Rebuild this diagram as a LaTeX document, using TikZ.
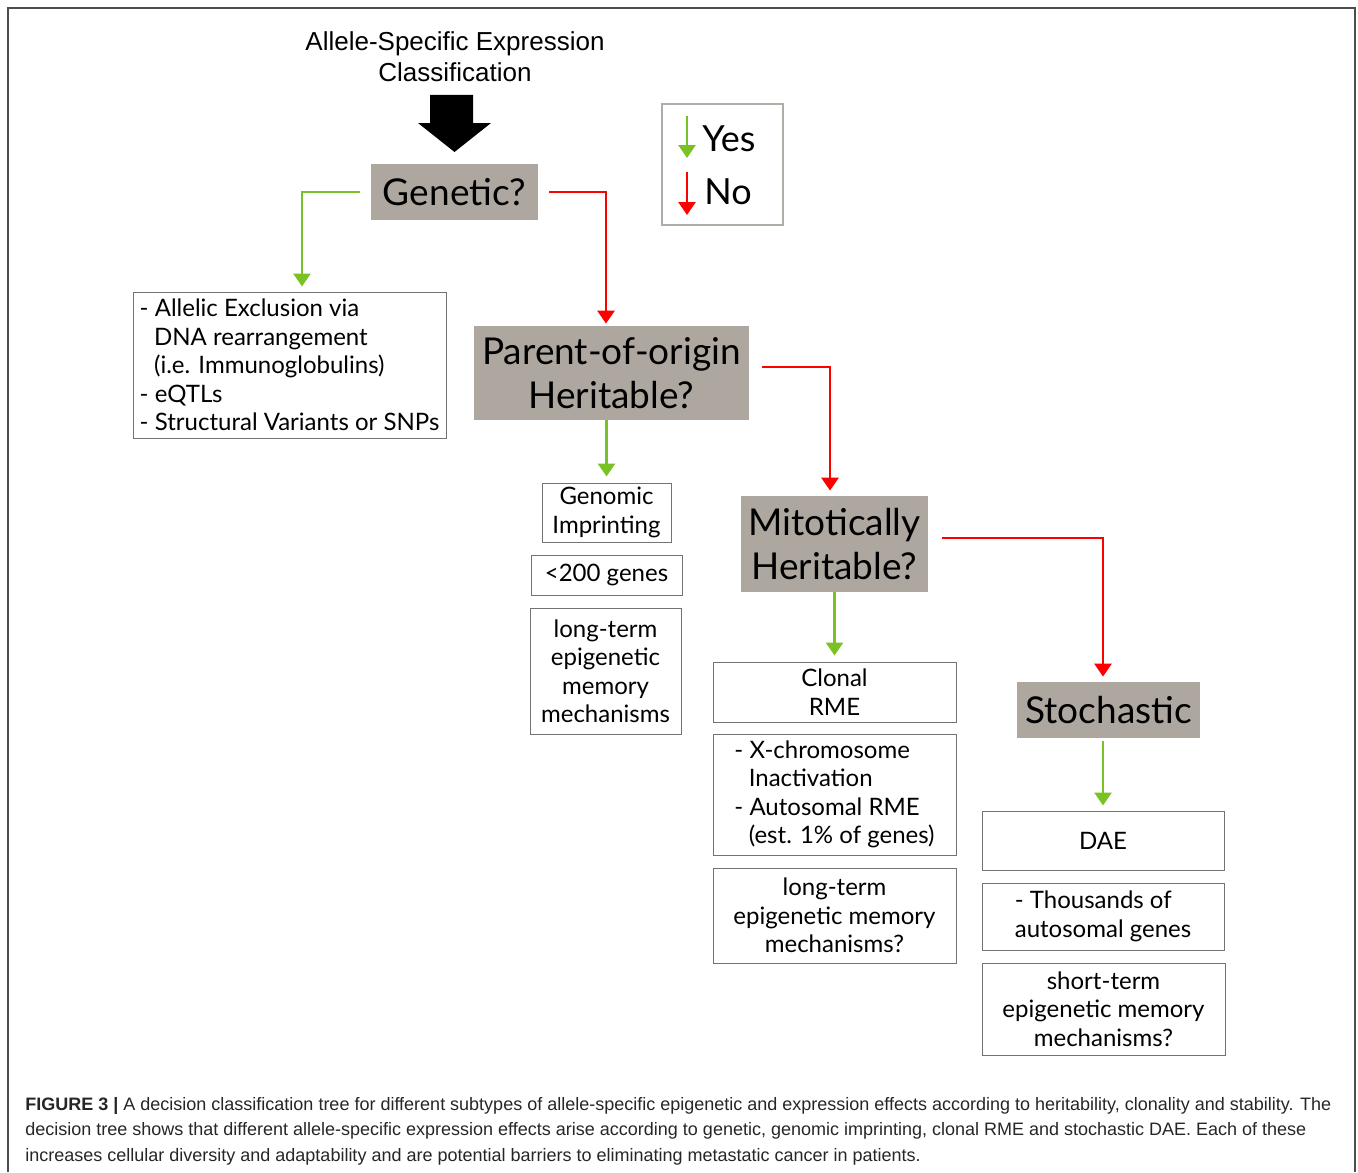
\documentclass[tikz,border=0pt]{standalone}
\usepackage{fontspec}
\setmainfont{Lato}
\newfontfamily\capfont{Liberation Sans}
\usetikzlibrary{arrows.meta,calc}

\definecolor{qgray}{RGB}{173,167,160}
\definecolor{yesgreen}{RGB}{122,193,36}
\definecolor{nored}{RGB}{255,0,0}
\definecolor{boxline}{RGB}{115,115,115}
\definecolor{legline}{RGB}{176,172,166}

\tikzset{
  question/.style={fill=qgray,inner sep=0pt,align=center,font=\fontsize{18.5}{22}\selectfont},
  infobox/.style={draw=boxline,line width=0.5pt,inner sep=0pt,align=center,font=\fontsize{12}{14.25}\selectfont},
  yesline/.style={draw=yesgreen,line width=1.4pt,-{Triangle[width=8.5pt,length=6.5pt]}},
  noline/.style={draw=nored,line width=1.4pt,-{Triangle[width=8.5pt,length=6.5pt]}},
}

\begin{document}
\begin{tikzpicture}[x=0.5pt,y=-0.5pt]
    \useasboundingbox (0,0) rectangle (1358,1172);
    \draw[black!70,line width=1pt] (8,1172) -- (8,8) -- (1355,8) -- (1355,1172);

    \node[font=\capfont\fontsize{13}{15.5}\selectfont,align=center] (title) at (455,57) {Allele-Specific Expression\\Classification};
    \fill (430,95) -- (473,95) -- (473,123) -- (491,123) -- (454.5,152) -- (418,123) -- (430,123) -- cycle;

    \node[question,minimum width=83.5pt,minimum height=28pt] (gen) at (454.5,192) {Genetic?};
    \node[infobox,minimum width=156.5pt,minimum height=73pt,align=left] (genlist) at (289.5,365) {- Allelic Exclusion via\\\hspace{0.6em}DNA rearrangement\\\hspace{0.6em}(i.e. Immunoglobulins)\\- eQTLs\\- Structural Variants or SNPs};
    \node[question,minimum width=137.5pt,minimum height=47pt] (parent) at (611.5,373) {Parent-of-origin\\Heritable?};
    \node[infobox,minimum width=64.5pt,minimum height=29.5pt] (imprint) at (606.5,512.5) {Genomic\\Imprinting};
    \node[infobox,minimum width=75.5pt,minimum height=20pt] (few) at (606.5,575) {<200 genes};
    \node[infobox,minimum width=75.5pt,minimum height=63pt] (ltmem) at (605.5,671) {long-term\\epigenetic\\memory\\mechanisms};
    \node[question,minimum width=93.5pt,minimum height=48pt] (mito) at (834.5,544) {Mitotically\\Heritable?};
    \node[infobox,minimum width=121.5pt,minimum height=30pt] (clonal) at (834.5,692) {Clonal\\RME};
    \node[infobox,minimum width=121.5pt,minimum height=60.5pt,align=left] (xinact) at (834.5,794.5) {- X-chromosome\\\hspace{0.6em}Inactivation\\- Autosomal RME\\\hspace{0.6em}(est. 1\% of genes)};
    \node[infobox,minimum width=121.5pt,minimum height=47.5pt] (ltmemq) at (834.5,915.5) {long-term\\epigenetic memory\\mechanisms?};
    \node[question,minimum width=91.5pt,minimum height=28pt] (stoch) at (1108.5,710) {Stochastic};
    \node[infobox,minimum width=121pt,minimum height=29.5pt] (dae) at (1103,840.5) {DAE};
    \node[infobox,minimum width=121pt,minimum height=33.5pt,align=left] (thous) at (1103,916.5) {- Thousands of\\autosomal genes};
    \node[infobox,minimum width=121.5pt,minimum height=46pt] (stmem) at (1103.5,1009) {short-term\\epigenetic memory\\mechanisms?};

    \draw[yesline,shorten <=5.5pt,shorten >=2.5pt] (gen.west) -| ($(genlist.north)+(12.5,0)$);
    \draw[noline,shorten <=5.5pt,shorten >=1pt] (gen.east) -| ($(parent.north)+(-5.5,0)$);
    \draw[yesline,shorten >=3pt] (parent.south -| imprint.north) -- (imprint.north);
    \draw[noline,shorten <=6.5pt,shorten >=2.5pt] ($(parent.east)+(0,-6)$) -| ($(mito.north)+(-4.5,0)$);
    \draw[yesline,shorten >=3pt] (mito.south) -- (clonal.north);
    \draw[noline,shorten <=7pt,shorten >=2.5pt] ($(mito.east)+(0,-6)$) -| ($(stoch.north)+(-5.5,0)$);
    \draw[yesline,shorten <=1.5pt,shorten >=2.5pt] (stoch.south -| dae.north) -- (dae.north);

    \node[draw=legline,line width=1.2pt,minimum width=60.5pt,minimum height=60.5pt] (legend) at (722.5,164.5) {};
    \coordinate (ytop) at (687,116);
    \coordinate (ybot) at (687,158);
    \coordinate (ntop) at (687,172);
    \coordinate (nbot) at (687,215);
    \draw[yesline] (ytop) -- (ybot);
    \draw[noline] (ntop) -- (nbot);
    \node[anchor=west,inner sep=0pt,font=\fontsize{18}{21}\selectfont] (yestxt) at (702,139) {Yes};
    \node[anchor=west,inner sep=0pt,font=\fontsize{18}{21}\selectfont] (notxt) at (704,192) {No};

    \node[anchor=north west,inner sep=0pt,align=left,text=black!85,font=\capfont\fontsize{9}{12.75}\selectfont] (caption) at (25,1097) {\textbf{FIGURE 3 |} A decision classification tree for different subtypes of allele-specific epigenetic and expression effects according to heritability, clonality and stability. The\\decision tree shows that different allele-specific expression effects arise according to genetic, genomic imprinting, clonal RME and stochastic DAE. Each of these\\increases cellular diversity and adaptability and are potential barriers to eliminating metastatic cancer in patients.};
\end{tikzpicture}
\end{document}
